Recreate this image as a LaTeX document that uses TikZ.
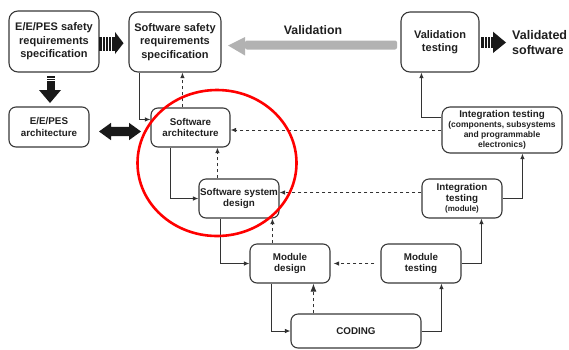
\documentclass[tikz,border=0pt]{standalone}
\usepackage{fontspec}
\setmainfont{Liberation Sans}
\usetikzlibrary{arrows.meta}
\begin{document}
\begin{tikzpicture}[x=1pt,y=-1pt,
  bx/.style={draw=black!78, line width=1.1pt, rounded corners=9pt, align=center,
    font=\bfseries\fontsize{11}{13.5}\selectfont, text=black!88, inner sep=1pt},
  sbx/.style={bx, rounded corners=7pt, font=\bfseries\fontsize{9.8}{11.2}\selectfont},
  ln/.style={draw=black!80, line width=0.9pt, -{Latex[length=5.5pt,width=4.5pt]}},
  dl/.style={ln, dash pattern=on 3.5pt off 2.5pt},
  big/.style={fill=black!90},
  stripe/.style={draw=white, line width=0.7pt}
]
\useasboundingbox (0,0) rectangle (569,349);

% boxes
\node[bx, minimum width=90pt, minimum height=61pt] (eeps) at (54,41.5) {E/E/PES safety\\requirements\\specification};
\node[bx, minimum width=92pt, minimum height=60pt] (swsrs) at (175,42) {Software safety\\requirements\\specification};
\node[sbx, minimum width=80pt, minimum height=40pt] (eearch) at (49,127) {E/E/PES\\architecture};
\node[sbx, minimum width=79pt, minimum height=39pt] (swarch) at (190.5,127.5) {Software\\architecture};
\node[bx, minimum width=78pt, minimum height=60pt] (valt) at (440,42) {Validation\\testing};
\node[sbx, minimum width=120pt, minimum height=46pt, rounded corners=8pt] (intc) at (502,130)
  {Integration testing\\[-1pt]{\fontsize{8.5}{10}\selectfont (components, subsystems}\\[-1pt]{\fontsize{8.5}{10}\selectfont and programmable}\\[-1pt]{\fontsize{8.5}{10}\selectfont electronics)}};
\node[sbx, minimum width=80pt, minimum height=39pt] (sysd) at (239,198.5) {Software system\\design};
\node[sbx, minimum width=80pt, minimum height=39pt] (intm) at (462,198.5) {Integration\\testing\\[-1pt]{\fontsize{8}{9}\selectfont (module)}};
\node[sbx, minimum width=80pt, minimum height=39pt] (modd) at (290,263.5) {Module\\design};
\node[sbx, minimum width=80pt, minimum height=39pt] (modt) at (421,263.5) {Module\\testing};
\node[sbx, minimum width=130pt, minimum height=34pt] (coding) at (356,331) {CODING};

% texts
\node[font=\bfseries\fontsize{12.3}{14}\selectfont, text=black!88, inner sep=0pt] (vlab) at (313,30) {Validation};
\node[font=\bfseries\fontsize{12.5}{15}\selectfont, text=black!88, align=left, anchor=west, inner sep=0pt] (vsw) at (512,43) {Validated\\software};

% solid connectors
\draw[ln] ([xshift=11pt]swsrs.south west) |- ([yshift=-12pt]swarch.north west);
\draw[ln] ([xshift=20pt]swarch.south west) |- (sysd.west);
\draw[ln] ([xshift=22pt]sysd.south west) |- (modd.west);
\draw[ln] ([xshift=22pt]modd.south west) |- (coding.west);
\draw[ln] (coding.east) -| ([xshift=61pt]modt.south west);
\draw[ln] (modt.east) -| ([xshift=60pt]intm.south west);
\draw[ln] (intm.east) -| ([xshift=81pt]intc.south west);
\draw[ln] ([yshift=-11pt]intc.north west) -| ([xshift=21pt]valt.south west);

% dashed connectors
\draw[dl] ([xshift=32pt]swarch.north west) -- ([xshift=54pt]swsrs.south west);
\draw[dl] ([xshift=19pt]sysd.north west) -- ([xshift=67pt]swarch.south west);
\draw[dl] ([xshift=23pt]modd.north west) -- ([xshift=74pt]sysd.south west);
\draw[dl, -{Latex[length=8pt,width=6pt]}] ([xshift=23pt]coding.north west) -- ([xshift=64pt]modd.south west);
\draw[dl] (intc.west) -- (intc.west -| swarch.east);
\draw[dl] ([yshift=6pt]intm.west) -- ([yshift=6pt]sysd.east);
\draw[dl, shorten <=6pt, shorten >=3pt] (modt.west) -- (modd.east);

% big arrows
\fill[big] (99,37) rectangle (115,50.5);
\fill[big] (115,32) -- (123.5,43.2) -- (115,54) -- cycle;
\foreach \s in {102,105,108,111} \draw[stripe] (\s,37) -- (\s,50.5);

\fill[big] (46.5,76) rectangle (54.5,90.5);
\fill[big] (39,90) -- (61,90) -- (50,103) -- cycle;
\foreach \s in {78,80.5} \draw[stripe] (46.5,\s) -- (54.5,\s);

\fill[big] (99,131.5) -- (111,122.8) -- (111,126.8) -- (129,126.8) -- (129,122.8) -- (141,131.5)
  -- (129,140.2) -- (129,136.2) -- (111,136.2) -- (111,140.2) -- cycle;

\fill[big] (481,36.7) rectangle (493,48.3);
\fill[big] (493,31.7) -- (506,42.5) -- (493,53) -- cycle;
\foreach \s in {484,487,490} \draw[stripe] (\s,36.7) -- (\s,48.3);

\fill[black!30, rounded corners=2pt] (245,40.5) rectangle (397,49.5);
\fill[black!30] (245,37) -- (228,45.5) -- (245,55.5) -- cycle;

% red circle
\draw[red, line width=2.6pt] (217,163) ellipse [x radius=79.5, y radius=73];
\end{tikzpicture}
\end{document}
